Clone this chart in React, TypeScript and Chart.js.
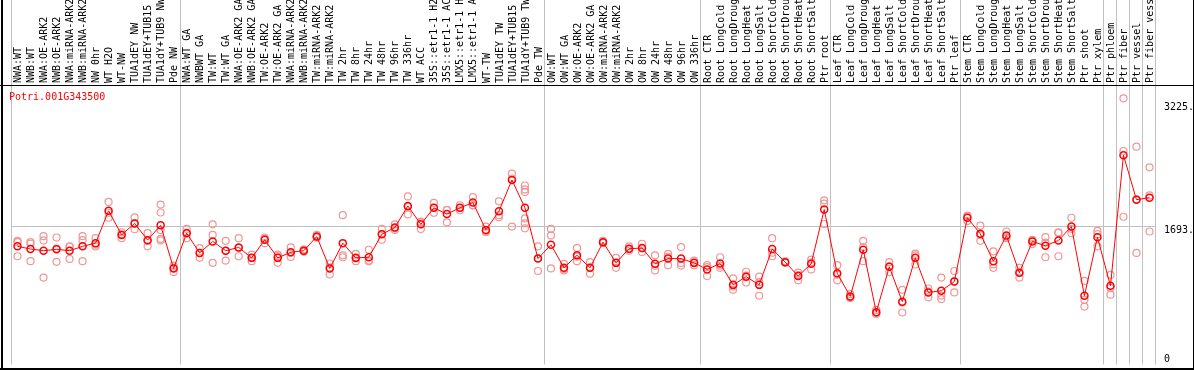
import React, { useEffect, useRef } from 'react';
import { Chart, registerables } from 'chart.js';

Chart.register(...registerables);

// ---------- categories (grouped) ----------
const nwLabels = ['NWA:WT', 'NWB:WT', 'NWA:OE-ARK2', 'NWB:OE-ARK2', 'NWA:miRNA-ARK2', 'NWB:miRNA-ARK2', 'NW 0hr', 'WT H2O', 'WT-NW', 'TUA1dEY NW', 'TUA1dEY+TUB15 NW', 'TUA1dY+TUB9 NW', 'Pde NW'];
const twLabels = ['NWA:WT GA', 'NWBWT GA', 'TW:WT', 'TW:WT GA', 'NWA:OE-ARK2 GA', 'NWB:OE-ARK2 GA', 'TW:OE-ARK2', 'TW:OE-ARK2 GA', 'NWA:miRNA-ARK2 GA', 'NWB:miRNA-ARK2 GA', 'TW:miRNA-ARK2', 'TW:miRNA-ARK2 GA', 'TW 2hr', 'TW 8hr', 'TW 24hr', 'TW 48hr', 'TW 96hr', 'TW 336hr', 'WT ACC', '35S::etr1-1 H2O', '35S::etr1-1 ACC', 'LMX5::etr1-1 H2O', 'LMX5::etr1-1 ACC', 'WT-TW', 'TUA1dEY TW', 'TUA1dEY+TUB15 TW', 'TUA1dY+TUB9 TW', 'Pde TW'];
const owLabels = ['OW:WT', 'OW:WT GA', 'OW:OE-ARK2', 'OW:OE-ARK2 GA', 'OW:miRNA-ARK2', 'OW:miRNA-ARK2 GA', 'OW 2hr', 'OW 8hr', 'OW 24hr', 'OW 48hr', 'OW 96hr', 'OW 336hr'];
const rootLabels = ['Root CTR', 'Root LongCold', 'Root LongDrought', 'Root LongHeat', 'Root LongSalt', 'Root ShortCold', 'Root ShortDrought', 'Root ShortHeat', 'Root ShortSalt', 'Ptr root'];
const leafLabels = ['Leaf CTR', 'Leaf LongCold', 'Leaf LongDrought', 'Leaf LongHeat', 'Leaf LongSalt', 'Leaf ShortCold', 'Leaf ShortDrought', 'Leaf ShortHeat', 'Leaf ShortSalt', 'Ptr leaf'];
const stemLabels = ['Stem CTR', 'Stem LongCold', 'Stem LongDrought', 'Stem LongHeat', 'Stem LongSalt', 'Stem ShortCold', 'Stem ShortDrought', 'Stem ShortHeat', 'Stem ShortSalt', 'Ptr shoot', 'Ptr xylem'];
const ptrLabels = ['Ptr phloem', 'Ptr fiber', 'Ptr vessel', 'Ptr fiber vessel'];

// ---------- mean expression per category ----------
const nwMeans = [1448, 1415, 1394, 1411, 1394, 1448, 1488, 1889, 1590, 1733, 1525, 1709, 1174];
const twMeans = [1611, 1366, 1509, 1394, 1435, 1305, 1529, 1305, 1374, 1394, 1570, 1174, 1488, 1305, 1313, 1599, 1681, 1950, 1721, 1926, 1848, 1926, 1991, 1652, 1884, 2272, 1926, 1296];
const owMeans = [1468, 1182, 1337, 1182, 1500, 1243, 1419, 1427, 1231, 1296, 1296, 1243];
const rootMeans = [1162, 1235, 970, 1072, 970, 1415, 1252, 1080, 1231, 1905];
const leafMeans = [1113, 827, 1406, 631, 1194, 762, 1305, 876, 897, 1011];
const stemMeans = [1803, 1603, 1264, 1583, 1121, 1509, 1456, 1521, 1693, 835, 1562];
const ptrMeans = [958, 2579, 2027, 2052];

// ---------- replicate values per category ----------
const nwReps = [[1517, 1500, 1325], [1500, 1264, 1480], [1574, 1521, 1060], [1558, 1256, 1420], [1443, 1292, 1447], [1574, 1525, 1264], [1550, 1468, 1446], [1999, 1803, 1865], [1623, 1550, 1597], [1807, 1660, 1732], [1611, 1448, 1516], [1966, 1868, 1541, 1521, 1650], [1210, 1129, 1183]];
const twReps = [[1664, 1550, 1619], [1427, 1305, 1366], [1721, 1590, 1243], [1517, 1272, 1393], [1550, 1325, 1430], [1345, 1264, 1306], [1558, 1488, 1541], [1345, 1243, 1327], [1435, 1317, 1370], [1410, 1380, 1392], [1590, 1555, 1565], [1235, 1100, 1187], [1835, 1337, 1313], [1354, 1264, 1297], [1406, 1272, 1262], [1664, 1529, 1604], [1721, 1650, 1672], [2068, 1844, 1938], [1754, 1664, 1745], [1987, 1864, 1927], [1896, 1746, 1902], [1958, 1896, 1924], [2060, 1958, 1955], [1693, 1623, 1640], [2007, 1835, 1810], [2350, 1693, 2290], [2203, 2154, 2121, 1795, 1733, 1672], [1448, 1142, 1300]];
const owReps = [[1664, 1583, 1174], [1231, 1149, 1166], [1427, 1264, 1320], [1252, 1109, 1185], [1515, 1490, 1495], [1305, 1182, 1242], [1448, 1394, 1415], [1480, 1378, 1423], [1337, 1149, 1207], [1354, 1215, 1319], [1439, 1240, 1210], [1272, 1215, 1243]];
const rootReps = [[1215, 1080, 1190], [1313, 1182, 1210], [1051, 909, 950], [1133, 998, 1085], [1072, 835, 1003], [1550, 1325, 1370], [1262, 1245, 1250], [1121, 1027, 1092], [1284, 1162, 1247], [2019, 1978, 1725]];
const leafReps = [[1215, 1027, 1097], [855, 806, 820], [1517, 1264, 1440], [659, 610, 624], [1252, 1129, 1201], [909, 627, 750], [1357, 1223, 1335], [925, 815, 888], [1060, 794, 837], [1142, 876, 1015]];
const stemReps = [[1828, 1762, 1819], [1705, 1517, 1587], [1386, 1182, 1224], [1632, 1550, 1567], [1182, 1060, 1121], [1530, 1476, 1521], [1562, 1313, 1493], [1623, 1325, 1615], [1803, 1611, 1665], [1019, 701, 785], [1639, 1448, 1599]];
const ptrReps = [[1093, 848, 933], [3285, 2631, 1815], [2685, 1366, 2030], [2428, 2080, 1632]];

// ---------- y axis ----------
const yTickValues = [0, 1693, 3225];
const yTickLabels = ['0', '1693.', '3225.'];
const yMin = -18;
const yMax = 3450;
const geneId = 'Potri.001G343500';

const MONO = "'DejaVu Sans Mono', monospace";
const GRID = '#c0c0c0';

export default function App() {
  const ref = useRef<HTMLCanvasElement>(null);

  useEffect(() => {
    document.body.style.margin = '0';
    const canvas = ref.current;
    if (!canvas) return;

    const groups = [nwLabels, twLabels, owLabels, rootLabels, leafLabels, stemLabels, ...ptrLabels.map((l) => [l])];
    const labels = ([] as string[]).concat(nwLabels, twLabels, owLabels, rootLabels, leafLabels, stemLabels, ptrLabels);
    const means = ([] as number[]).concat(nwMeans, twMeans, owMeans, rootMeans, leafMeans, stemMeans, ptrMeans);
    const reps = ([] as number[][]).concat(nwReps, twReps, owReps, rootReps, leafReps, stemReps, ptrReps);
    const repPoints: { x: number; y: number }[] = [];
    reps.forEach((list, i) => list.forEach((v) => repPoints.push({ x: i, y: v })));

    const boundaries = new Set<number>([0]);
    let acc = 0;
    groups.forEach((g) => {
      acc += g.length;
      boundaries.add(acc);
    });
    const xGridColor = (ctx: any) =>
      ctx.index === undefined || boundaries.has(ctx.index) ? GRID : 'rgba(0,0,0,0)';

    const decorations = {
      id: 'decorations',
      afterDraw(chart: any) {
        const c = chart.ctx;
        c.save();
        c.fillStyle = '#000';
        c.fillRect(1, 0, 2, 370);
        c.fillRect(1193, 0, 1, 370);
        c.fillRect(0, 368, 1194, 2);
        c.fillRect(0, 85, 1194, 1);
        c.fillStyle = '#ff0000';
        c.font = `10px ${MONO}`;
        c.textBaseline = 'middle';
        c.textAlign = 'left';
        c.fillText(geneId, 9, 97);
        c.restore();
      },
    };

    const noPad = (s: any) => {
      s.paddingTop = 0;
      s.paddingBottom = 0;
      s.paddingLeft = 0;
      s.paddingRight = 0;
    };

    const chart = new Chart(canvas, {
      type: 'line',
      data: {
        labels,
        datasets: [
          {
            type: 'line',
            data: means,
            borderColor: '#ff0000',
            borderWidth: 1,
            pointRadius: 3.5,
            pointBorderWidth: 1.5,
            pointBorderColor: '#ff0000',
            pointBackgroundColor: 'rgba(0,0,0,0)',
            fill: false,
            tension: 0,
          },
          {
            type: 'scatter',
            data: repPoints as any,
            parsing: false,
            showLine: false,
            pointRadius: 3.5,
            pointBorderWidth: 1.2,
            pointBorderColor: 'rgb(240,150,150)',
            pointBackgroundColor: 'rgba(0,0,0,0)',
          } as any,
        ],
      },
      plugins: [decorations],
      options: {
        animation: false,
        responsive: false,
        devicePixelRatio: 1,
        layout: { padding: { left: 11, right: 0, top: 0, bottom: 2 } },
        plugins: { legend: { display: false }, tooltip: { enabled: false }, title: { display: false } },
        scales: {
          x: {
            type: 'category',
            position: 'top',
            offset: true,
            grid: {
              offset: true,
              drawOnChartArea: true,
              drawTicks: true,
              tickLength: 85,
              color: xGridColor,
              tickColor: xGridColor,
              lineWidth: 1,
            },
            border: { display: false },
            ticks: {
              autoSkip: false,
              minRotation: 90,
              maxRotation: 90,
              padding: -83,
              labelOffset: 13,
              color: '#000',
              font: { family: MONO, size: 10 },
            },
            afterFit: (s: any) => {
              s.height = 85;
              noPad(s);
            },
          },
          y: {
            type: 'linear',
            position: 'right',
            min: yMin,
            max: yMax,
            grid: {
              drawTicks: false,
              color: (ctx: any) => (ctx.tick && ctx.tick.value === 1693 ? GRID : 'rgba(0,0,0,0)'),
              lineWidth: 1,
            },
            border: { display: false },
            afterBuildTicks: (s: any) => {
              s.ticks = yTickValues.map((v) => ({ value: v }));
            },
            ticks: {
              padding: 8,
              color: '#000',
              font: { family: MONO, size: 10, lineHeight: 0.8 },
              callback: (value: any) => {
                const idx = yTickValues.indexOf(Number(value));
                const text = idx >= 0 ? yTickLabels[idx] : '';
                return idx === 0 ? [text, ''] : ['', text];
              },
            },
            afterFit: (s: any) => {
              s.width = 38;
              noPad(s);
            },
          },
        },
      },
    });

    return () => chart.destroy();
  }, []);

  return (
    <div style={{ width: 1194, height: 370, position: 'relative' }}>
      <canvas ref={ref} width={1194} height={370} style={{ display: 'block' }} />
    </div>
  );
}
